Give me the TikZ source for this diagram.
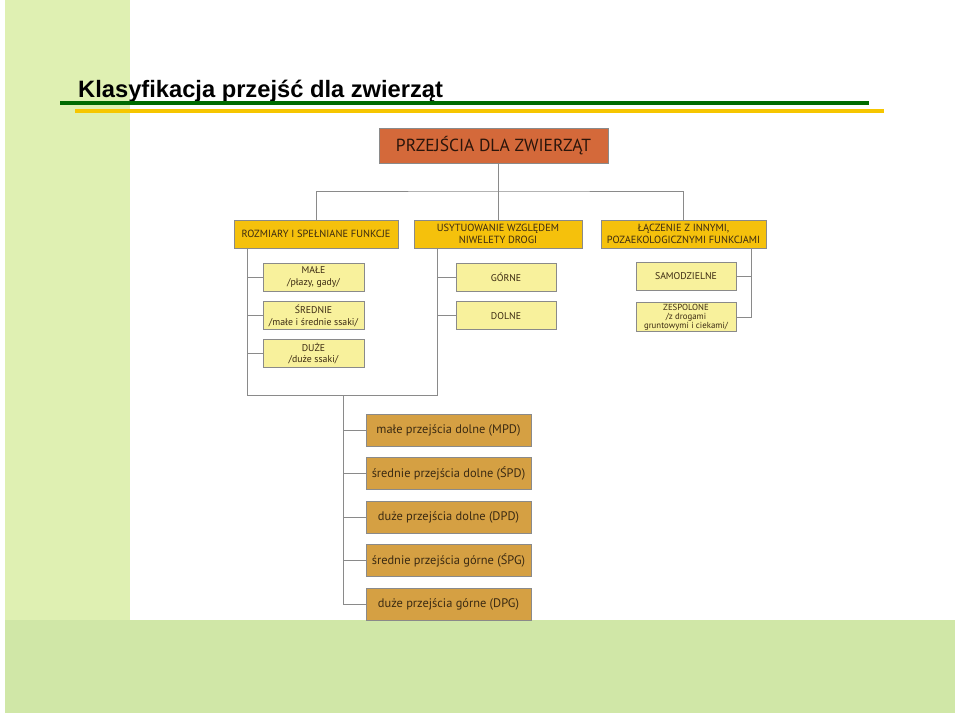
\documentclass[tikz,border=0pt]{standalone}
\usepackage{fontspec}
\setmainfont{PT Sans}
\newfontfamily\titlefont{Liberation Sans}
\usetikzlibrary{positioning}

\definecolor{stripgreen}{HTML}{DFF0B2}
\definecolor{bandgreen}{HTML}{D0E7A7}
\definecolor{rulegreen}{HTML}{006A00}
\definecolor{ruleyellow}{HTML}{F6C600}
\definecolor{rootfill}{HTML}{D4693A}
\definecolor{catfill}{HTML}{F5C10C}
\definecolor{subfill}{HTML}{F8F19C}
\definecolor{typefill}{HTML}{D5A043}
\definecolor{inktext}{HTML}{3B2A12}
\definecolor{wire}{HTML}{8A8A8A}

\tikzset{
  box/.style={draw=wire, line width=0.8pt, inner sep=0pt, align=center,
    text=inktext},
  rootbox/.style={box, fill=rootfill, minimum width=229pt, minimum height=35pt,
    font=\fontsize{17.5}{19}\selectfont, text=black!80!rootfill},
  catbox/.style={box, fill=catfill, minimum width=165pt, minimum height=28pt,
    font=\fontsize{10.4}{12.4}\selectfont},
  subbox/.style={box, fill=subfill, minimum width=101pt, minimum height=28pt,
    font=\fontsize{9.8}{11.8}\selectfont},
  typebox/.style={box, fill=typefill, minimum width=165pt, minimum height=32pt,
    font=\fontsize{12.4}{14}\selectfont},
  wires/.style={draw=wire, line width=0.9pt}
}

\begin{document}
\begin{tikzpicture}[x=1pt, y=-1pt]
\useasboundingbox (0,0) rectangle (960,716);

% background
\fill[stripgreen] (5,0) rectangle (130,620);
\fill[bandgreen] (5,620) rectangle (955,713);

% title and rules
\node[anchor=base west, inner sep=0pt, font=\titlefont\bfseries\fontsize{23.7}{26}\selectfont]
  (title) at (78,97) {Klasyfikacja przejść dla zwierząt};
\draw[rulegreen, line width=4pt] (60,103) -- (869,103);
\draw[ruleyellow, line width=4pt] (75,111) -- (884,111);

% top
\node[rootbox] (root) at (493.5,145.5) {PRZEJŚCIA DLA ZWIERZĄT};

% categories
\node[catbox, minimum width=164pt] (size) at (316,234) {ROZMIARY I SPEŁNIANE FUNKCJE};
\node[catbox, minimum width=168pt] (level) at (498,234) {USYTUOWANIE WZGLĘDEM\\NIWELETY DROGI};
\node[catbox] (link) at (683.5,234) {ŁĄCZENIE Z INNYMI,\\POZAEKOLOGICZNYMI FUNKCJAMI};

% subcategories
\node[subbox] (small) at (313.5,277) {MAŁE\\/płazy, gady/};
\node[subbox, below=10pt of small] (medium) {ŚREDNIE\\/małe i średnie ssaki/};
\node[subbox, below=9pt of medium] (large) {DUŻE\\/duże ssaki/};
\node[subbox, minimum width=100pt] (upper) at (506,277) {GÓRNE};
\node[subbox, minimum width=100pt, below=10pt of upper] (lower) {DOLNE};
\node[subbox, minimum width=100pt] (alone) at (686,276) {SAMODZIELNE};
\node[subbox, minimum width=100pt, minimum height=29pt, below=12pt of alone,
  font=\fontsize{8.8}{8.8}\selectfont] (joined) {ZESPOLONE\\/z drogami\\gruntowymi i ciekami/};

% types
\node[typebox] (mpd) at (448.5,430) {małe przejścia dolne (MPD)};
\node[typebox, below=11pt of mpd] (spd) {średnie przejścia dolne (ŚPD)};
\node[typebox, below=11pt of spd] (dpd) {duże przejścia dolne (DPD)};
\node[typebox, below=10pt of dpd] (spg) {średnie przejścia górne (ŚPG)};
\node[typebox, below=11pt of spg] (dpg) {duże przejścia górne (DPG)};

% connectors
\coordinate (bar) at (level.north |- 0,191);
\coordinate (ltop) at ([xshift=14pt]size.south west);
\coordinate (mtop) at ([xshift=24pt]level.south west);
\coordinate (rtop) at ([xshift=-15pt]link.south east);
\coordinate (lbot) at (ltop |- 0,395);
\coordinate (mbot) at (mtop |- 0,395);
\coordinate (stem) at ([xshift=-22pt]mpd.west |- 0,395);

\draw[wires] (level.north |- root.south) -- (level.north);
\draw[wires] (size.north) |- (bar) -| (link.north);
\draw[wires] (ltop) -- (lbot) -- (mbot) -- (mtop);
\draw[wires] (rtop) |- (joined.east);
\draw[wires] (stem) |- (dpg.west);
\foreach \n in {small,medium,large}
  \draw[wires] (\n.west) -- (\n.west -| ltop);
\foreach \n in {upper,lower}
  \draw[wires] (\n.west) -- (\n.west -| mtop);
\draw[wires] (alone.east) -- (alone.east -| rtop);
\foreach \n in {mpd,spd,dpd,spg}
  \draw[wires] (\n.west) -- (\n.west -| stem);
\end{tikzpicture}
\end{document}
